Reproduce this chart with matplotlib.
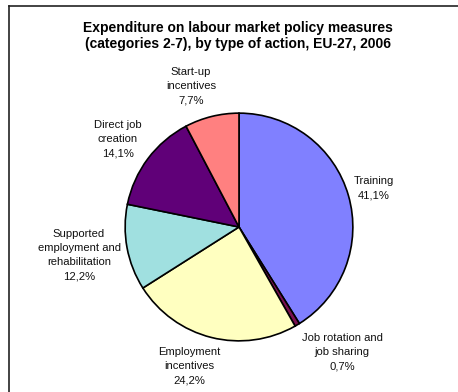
import matplotlib
matplotlib.use("Agg")
import matplotlib.pyplot as plt
from matplotlib.lines import Line2D

plt.rcParams['font.family'] = ['Liberation Sans', 'DejaVu Sans']

# data
labels = ['Training', 'Job rotation and\njob sharing', 'Employment\nincentives',
          'Supported\nemployment and\nrehabilitation', 'Direct job\ncreation',
          'Start-up\nincentives']
values = [41.1, 0.7, 24.2, 12.2, 14.1, 7.7]
colors = ['#8080FF', '#7A1050', '#FFFFC0', '#A0E0E0', '#600078', '#FF8080']
# label centres in pixels (x, y from top)
label_px = [(374, 188), (342, 352), (189, 366), (79, 255), (118, 139), (191, 86)]

W, H = 458, 392
fig = plt.figure(figsize=(W / 100, H / 100), dpi=100)

# pie centre ~ (239, 227) px, radius ~ 115 px
cx, cy, r = 239, 227, 115
ax = fig.add_axes([(cx - r) / W, 1 - (cy + r) / H, 2 * r / W, 2 * r / H])
ax.pie(values, colors=colors, startangle=90, counterclock=False, radius=1,
       wedgeprops=dict(edgecolor='black', linewidth=1.2))
ax.set_xlim(-1.01, 1.01)
ax.set_ylim(-1.01, 1.01)
ax.set_aspect('equal')
ax.axis('off')

for lab, v, (x, y) in zip(labels, values, label_px):
    txt = lab + '\n' + ('%.1f' % v).replace('.', ',') + '%'
    fig.text(x / W, 1 - y / H, txt, ha='center', va='center', fontsize=8.1,
             linespacing=1.52, color='#111111')

fig.text(238 / W, 1 - 36 / H,
         'Expenditure on labour market policy measures\n(categories 2-7), by type of action, EU-27, 2006',
         ha='center', va='center', fontsize=10, fontweight='bold', linespacing=1.25)

# outer frame (top and left edges visible)
fig.add_artist(Line2D([9 / W, 1], [1 - 6 / H, 1 - 6 / H], transform=fig.transFigure,
                      color='#222222', linewidth=1.2))
fig.add_artist(Line2D([9 / W, 9 / W], [0, 1 - 6 / H], transform=fig.transFigure,
                      color='#222222', linewidth=1.2))

fig.savefig('out.png', dpi=100)
